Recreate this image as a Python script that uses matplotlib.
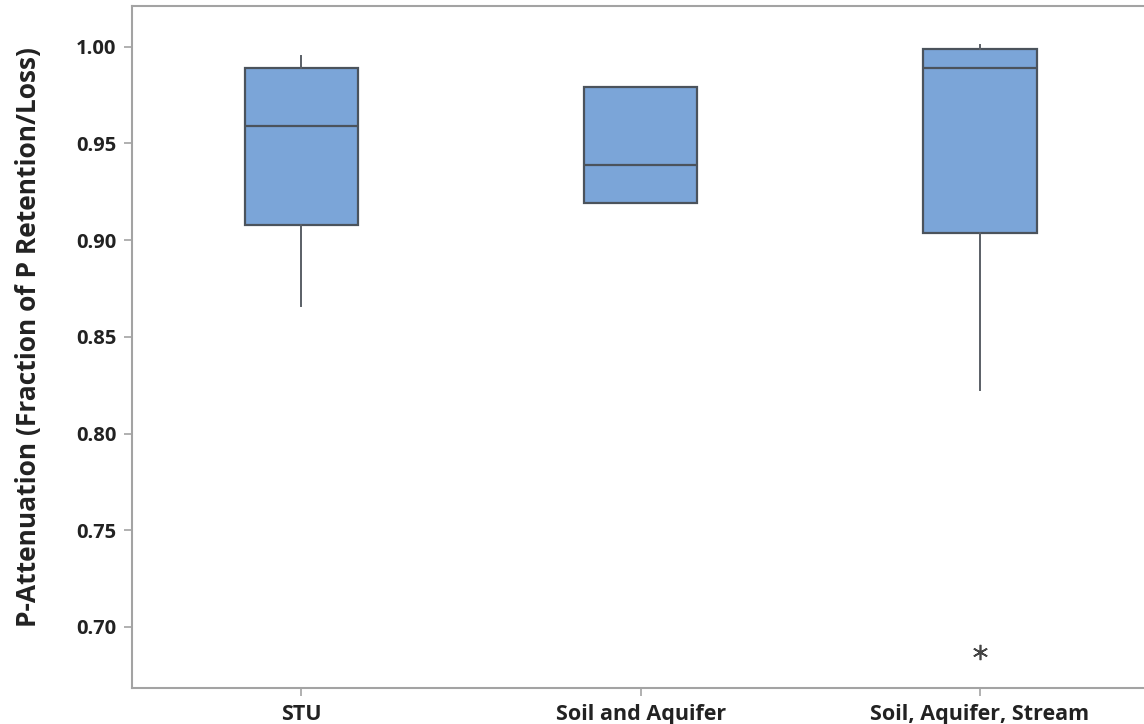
import matplotlib
matplotlib.use("Agg")
import matplotlib.pyplot as plt

# Summary statistics per treatment path
categories = ["STU", "Soil and Aquifer", "Soil, Aquifer, Stream"]
q1 = [0.908, 0.919, 0.9035]
medians = [0.959, 0.939, 0.989]
q3 = [0.989, 0.979, 0.999]
whisker_low = [0.866, 0.919, 0.8225]
whisker_high = [0.995, 0.979, 1.001]
outliers = [[], [], [0.687]]

y_ticks = [0.70, 0.75, 0.80, 0.85, 0.90, 0.95, 1.00]

plt.rcParams["font.family"] = ["Open Sans", "DejaVu Sans"]

fig = plt.figure(figsize=(11.44, 7.24), dpi=100)
ax = fig.add_axes([0.1151, 0.0493, 0.8897, 0.9428])

stats = []
for name, a, m, b, lo, hi, fl in zip(categories, q1, medians, q3,
                                     whisker_low, whisker_high, outliers):
    stats.append(dict(label=name, q1=a, med=m, q3=b,
                      whislo=lo, whishi=hi, fliers=fl))

edge = "#4b535c"
ax.bxp(
    stats,
    positions=[1, 2, 3],
    widths=0.334,
    patch_artist=True,
    showcaps=False,
    boxprops=dict(facecolor="#7ba5d8", edgecolor=edge, linewidth=1.6),
    medianprops=dict(color=edge, linewidth=1.6),
    whiskerprops=dict(color="#5a5f66", linewidth=1.4),
    flierprops=dict(marker=(6, 2, 0), markersize=11, markeredgecolor="#444444",
                    markerfacecolor="none", markeredgewidth=1.2, linestyle="none"),
)

ax.set_xlim(0.5, 3.5)
ax.set_ylim(0.6683, 1.0212)
ax.set_yticks(y_ticks)
ax.set_yticklabels([f"{t:.2f}" for t in y_ticks])
ax.set_xticks([1, 2, 3])
ax.set_xticklabels(categories)

for s in ax.spines.values():
    s.set_color("#a3a3a3")
    s.set_linewidth(1.5)

ax.tick_params(axis="both", direction="out", length=6, width=1.2,
               color="#a3a3a3", labelcolor="#222222")
ax.tick_params(axis="y", labelsize=14.5, pad=5)
ax.tick_params(axis="x", labelsize=15.5, pad=5)
for lab in ax.get_xticklabels() + ax.get_yticklabels():
    lab.set_fontweight("bold")

ax.set_ylabel("P-Attenuation (Fraction of P Retention/Loss)", fontsize=19,
              fontweight="bold", color="#222222")
ax.yaxis.set_label_coords(-0.088, 0.514)

fig.savefig("out.png", dpi=100)
